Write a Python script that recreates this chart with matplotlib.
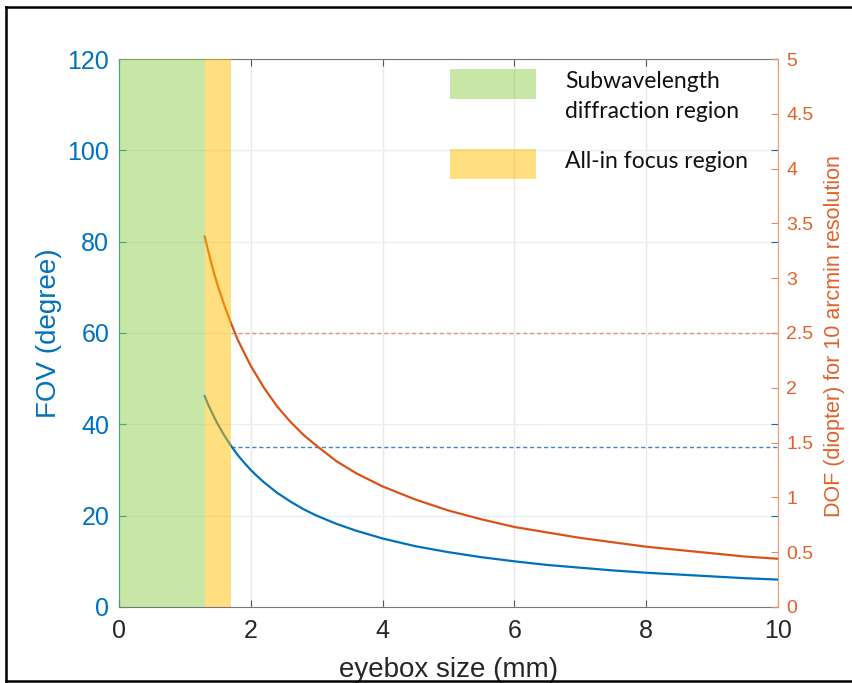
import numpy as np
import matplotlib
matplotlib.use("Agg")
import matplotlib.pyplot as plt
from matplotlib.patches import Rectangle
from matplotlib.lines import Line2D

plt.rcParams['font.family'] = ['Liberation Sans', 'DejaVu Sans']

#---------datos------------------------------------
eyebox = [1.3, 1.35, 1.4, 1.45, 1.5, 1.6, 1.7, 1.8, 1.9, 2.0, 2.1, 2.2, 2.4, 2.6, 2.8, 3.0, 3.3, 3.6,
          4.0, 4.5, 5.0, 5.5, 6.0, 6.5, 7.0, 7.5, 8.0, 8.5, 9.0, 9.5, 10.0]
fov = [46.2, 44.4, 42.9, 41.4, 40.0, 37.5, 35.3, 33.3, 31.6, 30.0, 28.6, 27.3, 25.0, 23.1, 21.4, 20.0, 18.2, 16.7,
       15.0, 13.3, 12.0, 10.9, 10.0, 9.2, 8.6, 8.0, 7.5, 7.1, 6.7, 6.3, 6.0]
dof = [3.38, 3.26, 3.14, 3.03, 2.93, 2.75, 2.59, 2.44, 2.32, 2.20, 2.10, 2.00, 1.83, 1.69, 1.57, 1.47, 1.33, 1.22,
       1.10, 0.98, 0.88, 0.80, 0.73, 0.68, 0.63, 0.59, 0.55, 0.52, 0.49, 0.46, 0.44]

region_subwave = (0.0, 1.3)
region_focus = (1.3, 1.7)
fov_ref = 35       # degree
dof_ref = 2.5      # diopter

azul = '#0072BD'
naranja = '#D95319'
verde = '#92D050'
amarillo = '#FFC000'

fig = plt.figure(figsize=(8.53, 6.83), dpi=100)
ax = fig.add_axes([0.1395, 0.1113, 0.7726, 0.8023])
ax2 = ax.twinx()

# curvas
ax.plot(eyebox, fov, color=azul, lw=1.6, zorder=3)
ax2.plot(eyebox, dof, color=naranja, lw=1.6, zorder=3)

# lineas de referencia
ax.plot([region_focus[1], 10], [fov_ref, fov_ref], color='#3F86C8', lw=1.0,
        ls=(0, (3, 2)))
ax2.plot([region_focus[1], 10], [dof_ref, dof_ref], color='#E8936A', lw=1.0,
         ls=(0, (3, 2)))

# regiones sombreadas (encima de las curvas)
ax2.axvspan(region_subwave[0], region_subwave[1], color=verde, alpha=0.5, lw=0, zorder=4)
ax2.axvspan(region_focus[0], region_focus[1], color=amarillo, alpha=0.5, lw=0, zorder=4)

# ejes
ax.set_xlim(0, 10)
ax.set_ylim(0, 120)
ax2.set_ylim(0, 5)
ax.set_xticks([0, 2, 4, 6, 8, 10])
ax.set_yticks([0, 20, 40, 60, 80, 100, 120])
ax2.set_yticks(np.arange(0, 5.01, 0.5))
ax2.set_yticklabels(['0', '0.5', '1', '1.5', '2', '2.5', '3', '3.5', '4', '4.5', '5'])

ax.grid(axis='x', color='#E8E8E8', lw=1)
ax.grid(axis='y', color='#E6F0F8', lw=1)
ax.set_axisbelow(True)

ax.tick_params(axis='x', direction='in', top=True, length=5, width=0.8,
               color='#555555', labelsize=18, labelcolor='#262626', pad=9)
ax.tick_params(axis='y', direction='in', left=True, right=True, length=5, width=0.8,
               color=azul, labelsize=18, labelcolor=azul, pad=7)
ax2.tick_params(axis='y', direction='in', length=5, width=0.8,
                color='#E98A60', labelsize=14, labelcolor='#E0622A', pad=6)

for s in ['top', 'bottom']:
    ax.spines[s].set_color('#777777')
ax.spines['left'].set_color(azul)
ax2.spines['left'].set_visible(False)
ax2.spines['top'].set_visible(False)
ax2.spines['bottom'].set_visible(False)
ax2.spines['right'].set_color('#EE9A78')
ax.spines['right'].set_visible(False)

ax.set_xlabel('eyebox size (mm)', fontsize=20, color='#262626')
ax.xaxis.set_label_coords(0.5, -0.092)
ax.set_ylabel('FOV (degree)', fontsize=20, color=azul)
ax.yaxis.set_label_coords(-0.087, 0.50)
ax2.set_ylabel('DOF (diopter) for 10 arcmin resolution', fontsize=15.5, color='#E0622A')
ax2.yaxis.set_label_coords(1.07, 0.495)

# leyenda (cuadros semitransparentes)
fig.patches.append(Rectangle((450 / 853, 1 - 99 / 683), 86 / 853, 30 / 683,
                             transform=fig.transFigure, color=verde, alpha=0.5, lw=0))
fig.patches.append(Rectangle((450 / 853, 1 - 179 / 683), 86 / 853, 30 / 683,
                             transform=fig.transFigure, color=amarillo, alpha=0.5, lw=0))
fuente_ley = ['Lato', 'DejaVu Sans']
fig.text(565 / 853, 1 - 82 / 683, 'Subwavelength', fontsize=16.5, family=fuente_ley,
         va='center', color='#111111')
fig.text(565 / 853, 1 - 111 / 683, 'diffraction region', fontsize=16.5, family=fuente_ley,
         va='center', color='#111111')
fig.text(565 / 853, 1 - 162 / 683, 'All-in focus region', fontsize=16.5, family=fuente_ley,
         va='center', color='#111111')

# marco exterior
marco = [((6.5 / 853, 6.5 / 853), (1 - 6.5 / 683, 1 - 681 / 683)),
         ((6.5 / 853, 1.0), (1 - 6.5 / 683, 1 - 6.5 / 683)),
         ((6.5 / 853, 1.0), (1 - 681 / 683, 1 - 681 / 683))]
for xs, ys in marco:
    fig.add_artist(Line2D(xs, ys, transform=fig.transFigure, color='black', lw=1.8))

fig.savefig('out.png', dpi=100)
